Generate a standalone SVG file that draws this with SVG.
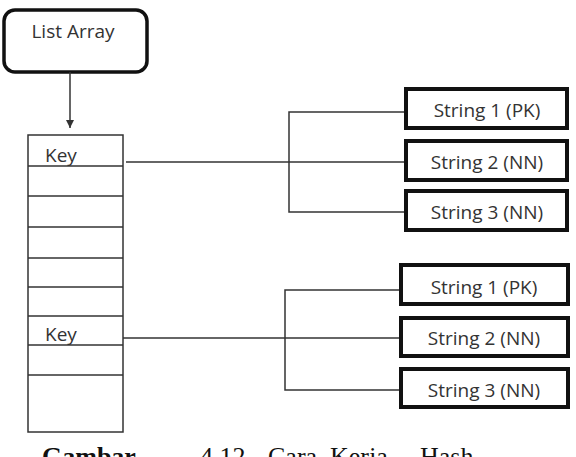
<svg xmlns="http://www.w3.org/2000/svg" width="576" height="457" viewBox="0 0 576 457">
<style>
.lbl{font-family:"Open Sans","Noto Sans","Liberation Sans",sans-serif;font-size:19px;fill:#333}
.box{fill:#fff;stroke:#111;stroke-width:4}
.cell{fill:none;stroke:#333;stroke-width:1.5}
.conn{fill:none;stroke:#333;stroke-width:1.5}
.cap{font-family:"Liberation Serif","Times New Roman",serif;font-size:26px;fill:#111}
</style>
<defs>
<marker id="arr" markerWidth="10" markerHeight="10" refX="8" refY="5" orient="auto" markerUnits="userSpaceOnUse">
<path d="M0,1 L8,5 L0,9 Z" fill="#333"/>
</marker>
</defs>
<rect width="576" height="457" fill="#fff"/>
<g id="list-array">
<rect x="4" y="10" width="143" height="62" rx="11" ry="11" fill="#fff" stroke="#111" stroke-width="3.5"/>
<text class="lbl" x="73" y="38" text-anchor="middle">List Array</text>
</g>
<g id="array">
<rect class="cell" x="28" y="135" width="95" height="297"/>
<line class="cell" x1="28" y1="166" x2="123" y2="166"/>
<line class="cell" x1="28" y1="196" x2="123" y2="196"/>
<line class="cell" x1="28" y1="227" x2="123" y2="227"/>
<line class="cell" x1="28" y1="258" x2="123" y2="258"/>
<line class="cell" x1="28" y1="287" x2="123" y2="287"/>
<line class="cell" x1="28" y1="316" x2="123" y2="316"/>
<line class="cell" x1="28" y1="345" x2="123" y2="345"/>
<line class="cell" x1="28" y1="375" x2="123" y2="375"/>
<text class="lbl" x="45" y="162">Key</text>
<text class="lbl" x="45" y="341">Key</text>
</g>
<g id="g1-s1"><rect class="box" x="406" y="89" width="161" height="39"/><text class="lbl" x="487" y="117" text-anchor="middle">String 1 (PK)</text></g>
<g id="g1-s2"><rect class="box" x="406" y="141" width="161" height="39"/><text class="lbl" x="487" y="169" text-anchor="middle">String 2 (NN)</text></g>
<g id="g1-s3"><rect class="box" x="406" y="191" width="161" height="39"/><text class="lbl" x="487" y="219" text-anchor="middle">String 3 (NN)</text></g>
<g id="g2-s1"><rect class="box" x="401" y="265" width="167" height="39"/><text class="lbl" x="484" y="294" text-anchor="middle">String 1 (PK)</text></g>
<g id="g2-s2"><rect class="box" x="401" y="318" width="167" height="38"/><text class="lbl" x="484" y="345" text-anchor="middle">String 2 (NN)</text></g>
<g id="g2-s3"><rect class="box" x="401" y="369" width="167" height="38"/><text class="lbl" x="484" y="397" text-anchor="middle">String 3 (NN)</text></g>
<g id="connectors">
<line class="conn" x1="70" y1="72" x2="70" y2="128" marker-end="url(#arr)"/>
<line class="conn" x1="126" y1="162" x2="404" y2="162"/>
<polyline class="conn" points="404,112 289,112 289,212 404,212"/>
<line class="conn" x1="123" y1="338" x2="399" y2="338"/>
<polyline class="conn" points="399,290 285,290 285,390 399,390"/>
</g>
<text class="cap" x="42" y="465"><tspan font-weight="bold">Gambar</tspan><tspan x="200">4.12</tspan><tspan x="268">Cara</tspan><tspan x="330">Kerja</tspan><tspan x="420">Hash</tspan></text>
</svg>
